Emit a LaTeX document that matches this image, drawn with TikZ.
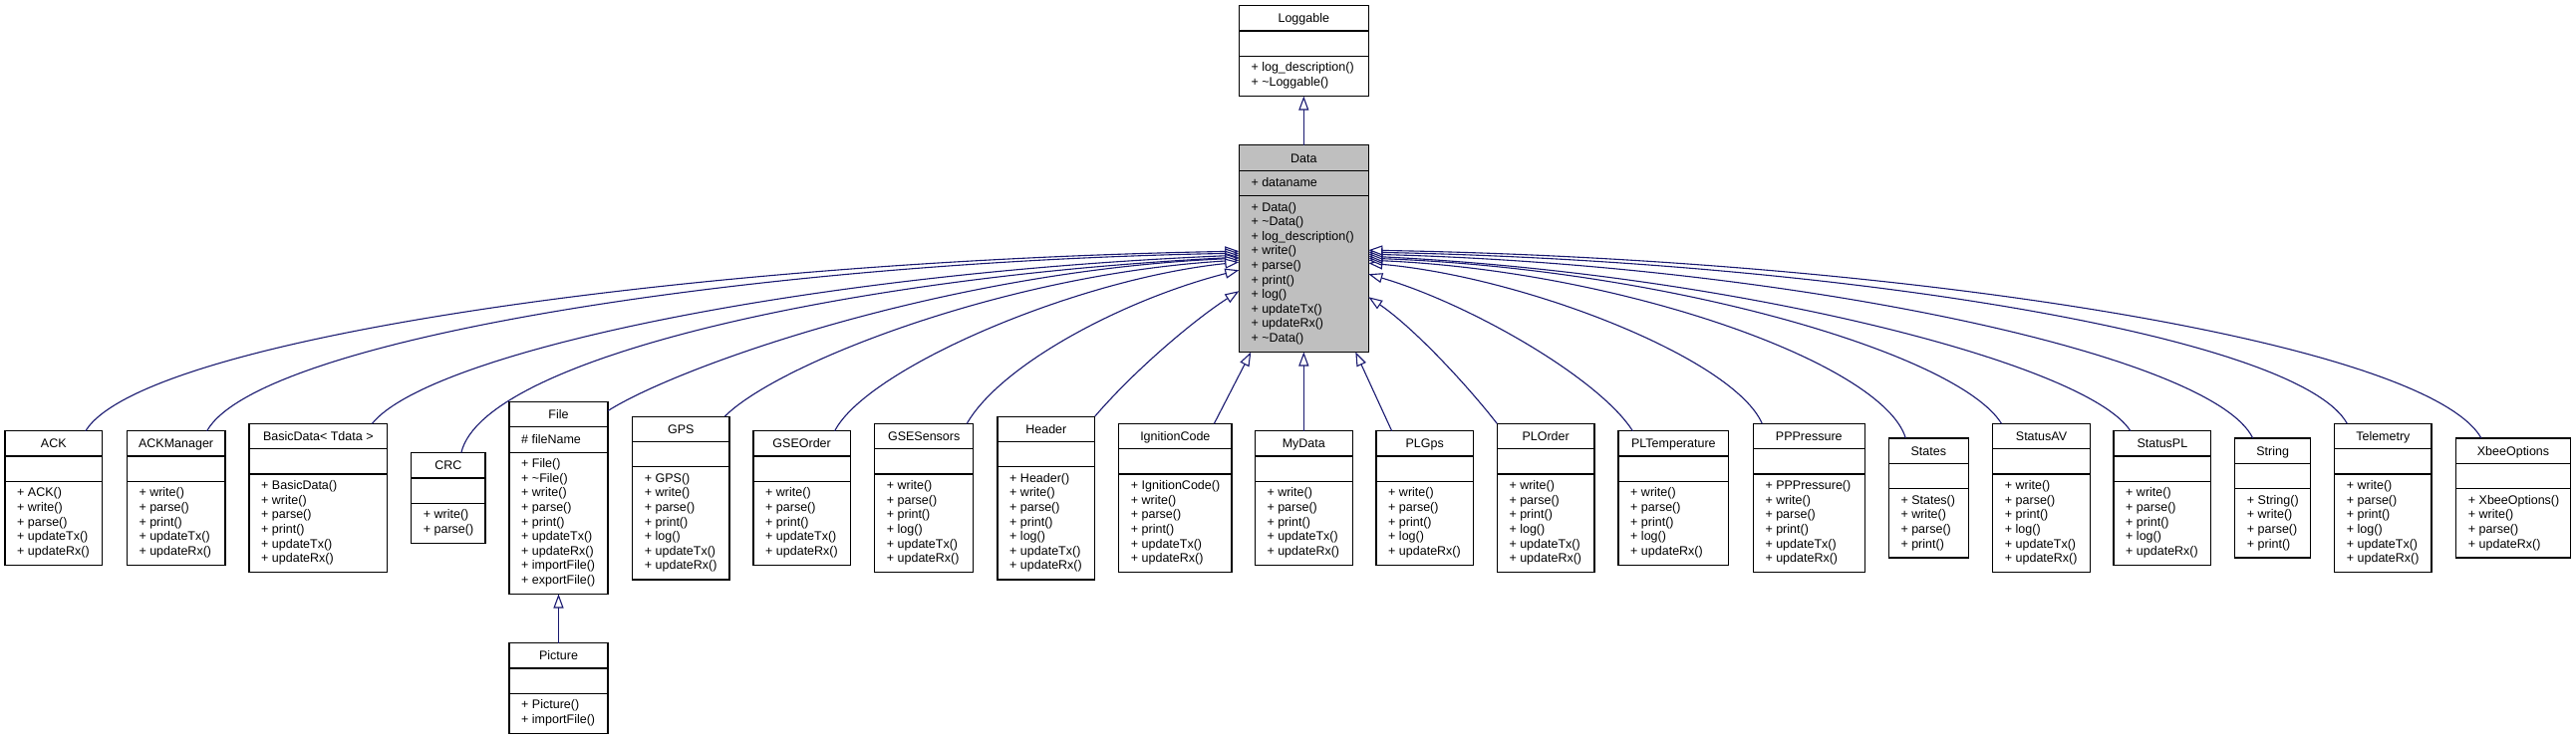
\documentclass[tikz,border=0pt]{standalone}
\usepackage{fontspec}
\setmainfont{Liberation Sans}
\usetikzlibrary{arrows.meta}
\definecolor{edgeblue}{HTML}{191970}
\definecolor{datagray}{HTML}{BFBFBF}
\tikzset{
  classbox/.style={draw=black, line width=1.2pt, inner sep=0pt, outer sep=0pt},
  sepline/.style={draw=black, line width=1.2pt},
  ctext/.style={font=\fontsize{12.5}{14.6}\selectfont, inner sep=0pt},
  inherit/.style={draw=edgeblue, line width=1.1pt, -{Triangle[open, length=14pt, width=10pt, fill=white]}},
}
% #1 name #2 left #3 width #4 title #5 attr #6 methods #7 n #8 fill #9 center y
\newcommand\umlclass[9]{%
  \pgfmathsetmacro\clsH{61.6+14.6*#7}%
  \pgfmathsetmacro\clsT{#9-\clsH/2}%
  \node[classbox, fill=#8, minimum width=#3pt, minimum height=\clsH pt, anchor=north west] (#1) at (#2,\clsT) {};
  \pgfmathsetmacro\clsA{\clsT+25.3}%
  \pgfmathsetmacro\clsB{\clsT+50.6}%
  \pgfmathsetmacro\clsR{#2+#3}%
  \draw[sepline] (#2,\clsA) -- (\clsR,\clsA);
  \draw[sepline] (#2,\clsB) -- (\clsR,\clsB);
  \pgfmathsetmacro\clsX{#2+#3/2}%
  \pgfmathsetmacro\clsY{\clsT+12.65+4.5}%
  \node[ctext, anchor=base] (#1-title) at (\clsX,\clsY) {#4};
  \pgfmathsetmacro\clsL{#2+12}%
  \pgfmathsetmacro\clsY{\clsA+12.65+3.8}%
  \node[ctext, anchor=base west] (#1-attr) at (\clsL,\clsY) {#5};
  \foreach \m [count=\i] in {#6} {%
    \pgfmathsetmacro\clsY{\clsB+11.6+14.6*(\i-1)+4}%
    \node[ctext, anchor=base west] (#1-m\i) at (\clsL,\clsY) {+ \m};
  }%
}
\begin{document}
\begin{tikzpicture}[x=1pt, y=-1pt]
\useasboundingbox (0,0) rectangle (2585,743);
\fill[white] (0,0) rectangle (2585,743);

\umlclass{Loggable}{1243.3}{130}{Loggable}{}{log\_description(),\textasciitilde Loggable()}{2}{white}{51.2}
\umlclass{Data}{1243.3}{130}{Data}{+ dataname}{Data(),\textasciitilde Data(),log\_description(),write(),parse(),print(),log(),updateTx(),updateRx(),\textasciitilde Data()}{10}{datagray}{249.7}

\umlclass{ACK}{5}{97.7}{ACK}{}{ACK(),write(),parse(),updateTx(),updateRx()}{5}{white}{500}
\umlclass{ACKManager}{127.3}{98.7}{ACKManager}{}{write(),parse(),print(),updateTx(),updateRx()}{5}{white}{500}
\umlclass{BasicData}{250}{138.7}{BasicData< Tdata >}{}{BasicData(),write(),parse(),print(),updateTx(),updateRx()}{6}{white}{500}
\umlclass{CRC}{412.7}{74.3}{CRC}{}{write(),parse()}{2}{white}{500}
\umlclass{File}{511}{99}{File}{\# fileName}{File(),\textasciitilde File(),write(),parse(),print(),updateTx(),updateRx(),importFile(),exportFile()}{9}{white}{500}
\umlclass{GPS}{634.7}{97.3}{GPS}{}{GPS(),write(),parse(),print(),log(),updateTx(),updateRx()}{7}{white}{500}
\umlclass{GSEOrder}{756}{97.3}{GSEOrder}{}{write(),parse(),print(),updateTx(),updateRx()}{5}{white}{500}
\umlclass{GSESensors}{877.7}{99}{GSESensors}{}{write(),parse(),print(),log(),updateTx(),updateRx()}{6}{white}{500}
\umlclass{Header}{1001}{97.7}{Header}{}{Header(),write(),parse(),print(),log(),updateTx(),updateRx()}{7}{white}{500}
\umlclass{IgnitionCode}{1122.7}{113.3}{IgnitionCode}{}{IgnitionCode(),write(),parse(),print(),updateTx(),updateRx()}{6}{white}{500}
\umlclass{MyData}{1259.3}{98}{MyData}{}{write(),parse(),print(),updateTx(),updateRx()}{5}{white}{500}
\umlclass{PLGps}{1381}{97.3}{PLGps}{}{write(),parse(),print(),log(),updateRx()}{5}{white}{500}
\umlclass{PLOrder}{1502.3}{97.7}{PLOrder}{}{write(),parse(),print(),log(),updateTx(),updateRx()}{6}{white}{500}
\umlclass{PLTemperature}{1624}{110.7}{PLTemperature}{}{write(),parse(),print(),log(),updateRx()}{5}{white}{500}
\umlclass{PPPressure}{1759.3}{112}{PPPressure}{}{PPPressure(),write(),parse(),print(),updateTx(),updateRx()}{6}{white}{500}
\umlclass{States}{1895.3}{80}{States}{}{States(),write(),parse(),print()}{4}{white}{500}
\umlclass{StatusAV}{1999.7}{97.6}{StatusAV}{}{write(),parse(),print(),log(),updateTx(),updateRx()}{6}{white}{500}
\umlclass{StatusPL}{2121}{97.7}{StatusPL}{}{write(),parse(),print(),log(),updateRx()}{5}{white}{500}
\umlclass{String}{2242.7}{76}{String}{}{String(),write(),parse(),print()}{4}{white}{500}
\umlclass{Telemetry}{2342.7}{97.3}{Telemetry}{}{write(),parse(),print(),log(),updateTx(),updateRx()}{6}{white}{500}
\umlclass{XbeeOptions}{2464.7}{114.6}{XbeeOptions}{}{XbeeOptions(),write(),parse(),updateRx()}{4}{white}{500}
\umlclass{Picture}{511}{99}{Picture}{}{Picture(),importFile()}{2}{white}{691.1}

% vertical inheritance
\draw[inherit] (Data.north) -- (Loggable.south);
\draw[inherit] (Picture.north) -- (File.south);
\draw[inherit] ([xshift=39pt]IgnitionCode.north) -- ([xshift=-53pt]Data.south);
\draw[inherit] (MyData.north) -- (Data.south);
\draw[inherit] ([xshift=-33pt]PLGps.north) -- ([xshift=52pt]Data.south);

% left side
\draw[inherit] ([xshift=32pt]ACK.north) .. controls (144,339) and (699,262) .. ([yshift=-2.5pt]Data.west);
\draw[inherit] ([xshift=31pt]ACKManager.north) .. controls (260,340) and (757,263) .. ([yshift=-4.5pt]Data.west);
\draw[inherit] ([xshift=54pt]BasicData.north) .. controls (430,355) and (800,275) .. ([yshift=-6.5pt]Data.west);
\draw[inherit] ([xshift=13pt]CRC.north) .. controls (485,360) and (850,278) .. ([yshift=-8.5pt]Data.west);
\draw[inherit] ([yshift=-9pt]File.north east) .. controls (680,368) and (950,272) .. ([yshift=-9.5pt]Data.west);
\draw[inherit] ([xshift=44pt]GPS.north) .. controls (780,365) and (1010,275) .. ([yshift=-11.5pt]Data.west);
\draw[inherit] ([xshift=33pt]GSEOrder.north) .. controls (870,370) and (1080,280) .. ([yshift=-13.5pt]Data.west);
\draw[inherit] ([xshift=43pt]GSESensors.north) .. controls (1005,365) and (1130,300) .. ([yshift=-21.5pt]Data.west);
\draw[inherit] (Header.north east) .. controls (1140,370) and (1200,320) .. ([yshift=-42.5pt]Data.west);

% right side
\draw[inherit] (PLOrder.north west) .. controls (1475,390) and (1420,330) .. ([yshift=-48.5pt]Data.east);
\draw[inherit] ([xshift=-41pt]PLTemperature.north) .. controls (1605,380) and (1475,305) .. ([yshift=-25.5pt]Data.east);
\draw[inherit] ([xshift=-47pt]PPPressure.north) .. controls (1740,360) and (1530,278) .. ([yshift=-14.5pt]Data.east);
\draw[inherit] ([xshift=-23pt]States.north) .. controls (1890,365) and (1627,272) .. ([yshift=-11.5pt]Data.east);
\draw[inherit] ([xshift=-40pt]StatusAV.north) .. controls (1965,355) and (1672,270) .. ([yshift=-9.5pt]Data.east);
\draw[inherit] ([xshift=-32pt]StatusPL.north) .. controls (2095,365) and (1740,275) .. ([yshift=-7.5pt]Data.east);
\draw[inherit] ([xshift=-20pt]String.north) .. controls (2220,355) and (1790,266) .. ([yshift=-5.5pt]Data.east);
\draw[inherit] ([xshift=-36pt]Telemetry.north) .. controls (2306,336) and (1835,262) .. ([yshift=-3.5pt]Data.east);
\draw[inherit] ([xshift=-32pt]XbeeOptions.north) .. controls (2434,342) and (1898,260) .. ([yshift=-1.5pt]Data.east);
\end{tikzpicture}
\end{document}
